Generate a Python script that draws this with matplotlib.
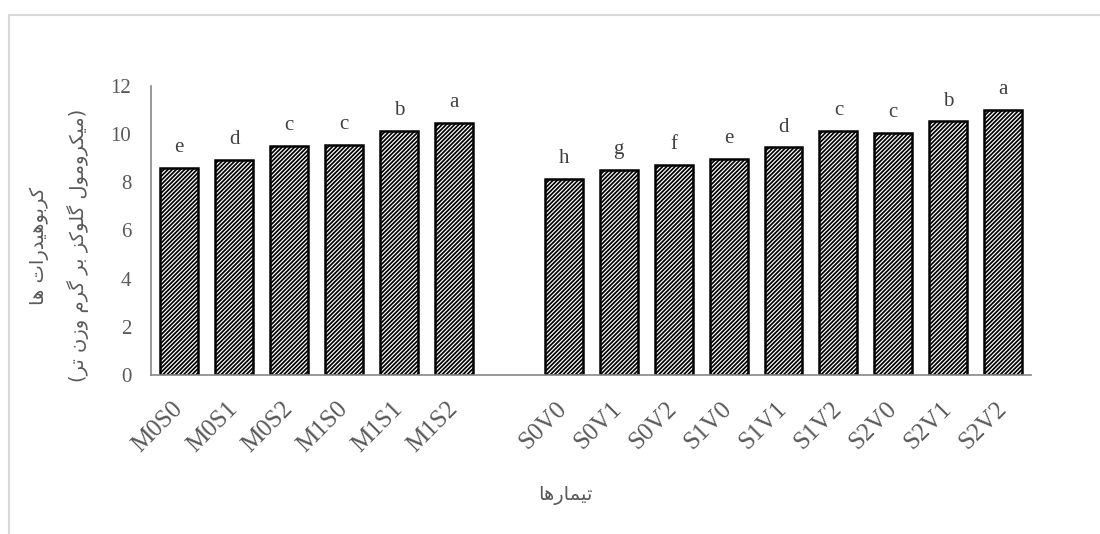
import numpy as np
import matplotlib
matplotlib.use("Agg")
import matplotlib.pyplot as plt
from matplotlib.lines import Line2D

# data
group1 = ["M0S0", "M0S1", "M0S2", "M1S0", "M1S1", "M1S2"]
group2 = ["S0V0", "S0V1", "S0V2", "S1V0", "S1V1", "S1V2", "S2V0", "S2V1", "S2V2"]
values1 = [8.6, 8.92, 9.5, 9.56, 10.15, 10.47]
values2 = [8.14, 8.52, 8.73, 8.96, 9.45, 10.15, 10.05, 10.53, 11.0]
letters1 = ["e", "d", "c", "c", "b", "a"]
letters2 = ["h", "g", "f", "e", "d", "c", "c", "b", "a"]

ylabel1 = "کربوهیدرات ها"
ylabel2 = "(میکرومول گلوکز بر گرم وزن تر)"
xlabel = "تیمارها"

# simple Persian shaping (matplotlib does no Arabic joining itself)
FORMS = {
    "ا": ("\uFE8D", "\uFE8E", None, None),
    "ب": ("\uFE8F", "\uFE90", "\uFE91", "\uFE92"),
    "ت": ("\uFE95", "\uFE96", "\uFE97", "\uFE98"),
    "د": ("\uFEA9", "\uFEAA", None, None),
    "ر": ("\uFEAD", "\uFEAE", None, None),
    "ز": ("\uFEAF", "\uFEB0", None, None),
    "س": ("\uFEB1", "\uFEB2", "\uFEB3", "\uFEB4"),
    "ل": ("\uFEDD", "\uFEDE", "\uFEDF", "\uFEE0"),
    "م": ("\uFEE1", "\uFEE2", "\uFEE3", "\uFEE4"),
    "ن": ("\uFEE5", "\uFEE6", "\uFEE7", "\uFEE8"),
    "ه": ("\uFEE9", "\uFEEA", "\uFEEB", "\uFEEC"),
    "و": ("\uFEED", "\uFEEE", None, None),
    "ک": ("\uFB8E", "\uFB8F", "\uFB90", "\uFB91"),
    "گ": ("\uFB92", "\uFB93", "\uFB94", "\uFB95"),
    "ی": ("\uFBFC", "\uFBFD", "\uFBFE", "\uFBFF"),
}


def shape(text):
    out = []
    for i, ch in enumerate(text):
        if ch not in FORMS:
            out.append(ch)
            continue
        iso, fin, ini, med = FORMS[ch]
        prev = text[i - 1] if i > 0 else ""
        nxt = text[i + 1] if i + 1 < len(text) else ""
        prev_joins = prev in FORMS and FORMS[prev][2] is not None
        next_joins = nxt in FORMS and ini is not None
        if prev_joins and next_joins:
            out.append(med)
        elif next_joins:
            out.append(ini)
        elif prev_joins:
            out.append(fin)
        else:
            out.append(iso)
    vis = "".join(reversed(out))
    return vis.translate(str.maketrans("()", ")("))


labels = group1 + group2
values = values1 + values2
letters = letters1 + letters2
x = np.r_[np.arange(len(group1)), np.arange(len(group2)) + len(group1) + 1]

plt.rcParams["font.family"] = ["Liberation Serif", "DejaVu Sans"]
plt.rcParams["hatch.linewidth"] = 1.25

fig = plt.figure(figsize=(11, 5.34), dpi=100)
ax = fig.add_axes([0.137, 0.298, 0.8, 0.541])

ax.bar(x, values, width=0.69, color="white", edgecolor="black",
       linewidth=1.8, hatch="////////")
for xi, v, t in zip(x, values, letters):
    ax.text(xi, v + 0.45, t, ha="center", va="bottom", fontsize=15,
            color="#404040")

ax.set_xlim(-0.52, 15.5)
ax.set_ylim(0, 12)
ax.set_yticks(range(0, 13, 2))
ax.set_xticks(x)
ax.set_xticklabels(labels, rotation=45, ha="right", va="center",
                   rotation_mode="anchor", fontsize=18, color="#595959")
ax.tick_params(axis="y", labelsize=15, labelcolor="#595959", length=0, pad=14)
ax.tick_params(axis="x", length=0, pad=22)
for s in ["top", "right"]:
    ax.spines[s].set_visible(False)
for s in ["left", "bottom"]:
    ax.spines[s].set_color("#868686")
    ax.spines[s].set_linewidth(1.2)

fig.text(0.036, 0.54, shape(ylabel1), rotation=90, ha="center", va="center",
         fontsize=14, color="#595959", family="DejaVu Sans")
fig.text(0.071, 0.54, shape(ylabel2), rotation=90, ha="center", va="center",
         fontsize=14, color="#595959", family="DejaVu Sans")
fig.text(0.514, 0.073, shape(xlabel), ha="center", va="center",
         fontsize=14, color="#595959", family="DejaVu Sans")

# light frame around the chart area (left and top edges only visible)
fig.add_artist(Line2D([0.0085, 0.0085], [0.0, 0.972], transform=fig.transFigure,
                      color="#d9d9d9", linewidth=1.5))
fig.add_artist(Line2D([0.0085, 1.0], [0.972, 0.972], transform=fig.transFigure,
                      color="#d9d9d9", linewidth=1.5))

fig.savefig("out.png", dpi=100)
